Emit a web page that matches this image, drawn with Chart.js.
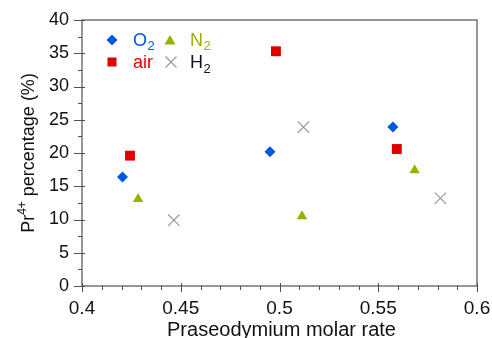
<!DOCTYPE html>
<html>
<head>
<meta charset="utf-8">
<script src="https://cdn.jsdelivr.net/npm/chart.js@4"></script>
<style>
  html, body { margin: 0; padding: 0; background: #fff; }
  #wrap { width: 492px; height: 338px; position: relative; }
</style>
</head>
<body>
<div id="wrap"><canvas id="chart" width="492" height="338"></canvas></div>
<script>
// valores
const o2X = [0.4205, 0.4952, 0.5574]
const o2Y = [16.4, 20.2, 23.9]
const airX = [0.4243, 0.4982, 0.5594]
const airY = [19.6, 35.3, 20.6]
const n2X = [0.4284, 0.5114, 0.5684]
const n2Y = [13.1, 10.5, 17.4]
const h2X = [0.4465, 0.5121, 0.5815]
const h2Y = [9.9, 23.9, 13.2]

const xTickLabels = ['0.4', '0.45', '0.5', '0.55', '0.6']
const yTickLabels = ['0', '5', '10', '15', '20', '25', '30', '35', '40']

const FONT = "'Liberation Sans', Arial, sans-serif"
const AXIS = '#505050'
const BLUE = '#0057e0'
const RED = '#e00000'
const OLIVE = '#9ab000'
const GRAY = '#9a9a9a'

const toPoints = (xs, ys) => xs.map((x, i) => ({ x: x, y: ys[i] }))

// desenha moldura, marcas dos eixos, títulos e legenda
const decorPlugin = {
    id: 'decor',
    afterDraw(chart) {
        const ctx = chart.ctx
        const a = chart.chartArea
        const xs = chart.scales.x
        const ys = chart.scales.y

        ctx.save()
        ctx.strokeStyle = AXIS
        ctx.lineWidth = 1.2
        ctx.strokeRect(a.left, a.top, a.right - a.left, a.bottom - a.top)

        ctx.lineWidth = 1
        ctx.beginPath()
        // eixo x: maiores a cada 0.05, menores a cada 0.01
        for (let i = 0; i <= 20; i++) {
            const px = Math.round(xs.getPixelForValue(0.4 + i * 0.01)) + 0.5
            if (i % 5 === 0) {
                ctx.moveTo(px, a.bottom - 3)
                ctx.lineTo(px, a.bottom + 6)
            } else {
                ctx.moveTo(px, a.bottom)
                ctx.lineTo(px, a.bottom + 4)
            }
        }
        // eixo y: maiores a cada 5, menores a cada 2.5
        for (let i = 0; i <= 16; i++) {
            const py = Math.round(ys.getPixelForValue(i * 2.5)) + 0.5
            if (i % 2 === 0) {
                ctx.moveTo(a.left - 8, py)
                ctx.lineTo(a.left + 3, py)
            } else {
                ctx.moveTo(a.left - 4, py)
                ctx.lineTo(a.left, py)
            }
        }
        ctx.stroke()

        // título do eixo x
        ctx.fillStyle = '#111'
        ctx.font = '20px ' + FONT
        ctx.textAlign = 'center'
        ctx.textBaseline = 'alphabetic'
        ctx.fillText('Praseodymium molar rate', (a.left + a.right) / 2 + 2, 336)

        // título do eixo y com sobrescrito
        ctx.save()
        ctx.translate(34, (a.top + a.bottom) / 2)
        ctx.rotate(-Math.PI / 2)
        ctx.textAlign = 'left'
        const big = '18px ' + FONT
        const small = '12px ' + FONT
        ctx.font = big
        const w1 = ctx.measureText('Pr').width
        const w3 = ctx.measureText(' percentage (%)').width
        ctx.font = small
        const w2 = ctx.measureText('4+').width
        let x0 = -(w1 + w2 + w3) / 2
        ctx.font = big
        ctx.fillText('Pr', x0, 0)
        ctx.font = small
        ctx.fillText('4+', x0 + w1, -8)
        ctx.font = big
        ctx.fillText(' percentage (%)', x0 + w1 + w2, 0)
        ctx.restore()

        // legenda
        const items = [
            { shape: 'diamond', color: BLUE, mx: 112, my: 40, label: 'O', sub: '2', tc: BLUE, tx: 133, ty: 45.5 },
            { shape: 'triangle', color: OLIVE, mx: 170, my: 40, label: 'N', sub: '2', tc: OLIVE, tx: 190, ty: 45.5 },
            { shape: 'square', color: RED, mx: 112, my: 62, label: 'air', sub: '', tc: RED, tx: 133, ty: 68 },
            { shape: 'cross', color: GRAY, mx: 171, my: 62, label: 'H', sub: '2', tc: '#111', tx: 190, ty: 68 }
        ]
        items.forEach(it => {
            ctx.fillStyle = it.color
            ctx.strokeStyle = it.color
            ctx.beginPath()
            if (it.shape === 'diamond') {
                ctx.moveTo(it.mx, it.my - 5.5)
                ctx.lineTo(it.mx + 5.5, it.my)
                ctx.lineTo(it.mx, it.my + 5.5)
                ctx.lineTo(it.mx - 5.5, it.my)
                ctx.closePath()
                ctx.fill()
            } else if (it.shape === 'triangle') {
                ctx.moveTo(it.mx, it.my - 5)
                ctx.lineTo(it.mx + 5.5, it.my + 4.5)
                ctx.lineTo(it.mx - 5.5, it.my + 4.5)
                ctx.closePath()
                ctx.fill()
            } else if (it.shape === 'square') {
                ctx.fillRect(it.mx - 4.5, it.my - 4.5, 9, 9)
            } else {
                ctx.lineWidth = 1.2
                ctx.moveTo(it.mx - 5.5, it.my - 5.5)
                ctx.lineTo(it.mx + 5.5, it.my + 5.5)
                ctx.moveTo(it.mx + 5.5, it.my - 5.5)
                ctx.lineTo(it.mx - 5.5, it.my + 5.5)
                ctx.stroke()
            }
            ctx.fillStyle = it.tc
            ctx.textAlign = 'left'
            ctx.font = '18px ' + FONT
            ctx.fillText(it.label, it.tx, it.ty)
            const lw = ctx.measureText(it.label).width
            if (it.sub) {
                ctx.font = '13px ' + FONT
                ctx.fillText(it.sub, it.tx + lw + 0.5, it.ty + 4.5)
            }
        })
        ctx.restore()
    }
}

new Chart(document.getElementById('chart'), {
    type: 'scatter',
    data: {
        datasets: [
            {
                label: 'O2',
                data: toPoints(o2X, o2Y),
                pointStyle: 'rectRot',
                pointRadius: 5.5,
                backgroundColor: BLUE,
                borderColor: BLUE,
                borderWidth: 0
            },
            {
                label: 'N2',
                data: toPoints(n2X, n2Y),
                pointStyle: 'triangle',
                pointRadius: 6,
                backgroundColor: OLIVE,
                borderColor: OLIVE,
                borderWidth: 0
            },
            {
                label: 'air',
                data: toPoints(airX, airY),
                pointStyle: 'rect',
                pointRadius: 7,
                backgroundColor: RED,
                borderColor: RED,
                borderWidth: 0
            },
            {
                label: 'H2',
                data: toPoints(h2X, h2Y),
                pointStyle: 'crossRot',
                pointRadius: 8,
                backgroundColor: GRAY,
                borderColor: GRAY,
                borderWidth: 1.2
            }
        ]
    },
    options: {
        responsive: false,
        animation: false,
        layout: { padding: { top: 20, right: 15, left: 0, bottom: 0 } },
        plugins: {
            legend: { display: false },
            tooltip: { enabled: false }
        },
        scales: {
            x: {
                type: 'linear',
                min: 0.4,
                max: 0.6,
                afterFit: (scale) => {
                    scale.height = 52
                    scale.paddingLeft = 0
                    scale.paddingRight = 0
                },
                afterBuildTicks: (scale) => {
                    scale.ticks = xTickLabels.map(t => ({ value: Number(t) }))
                },
                grid: { display: false, drawTicks: false },
                border: { display: false },
                ticks: {
                    color: '#111',
                    font: { family: FONT, size: 19 },
                    padding: 11,
                    maxRotation: 0,
                    callback: (v, i) => xTickLabels[i]
                }
            },
            y: {
                type: 'linear',
                min: 0,
                max: 40,
                afterFit: (scale) => {
                    scale.width = 82
                    scale.paddingTop = 0
                    scale.paddingBottom = 0
                },
                afterBuildTicks: (scale) => {
                    scale.ticks = yTickLabels.map(t => ({ value: Number(t) }))
                },
                grid: { display: false, drawTicks: false },
                border: { display: false },
                ticks: {
                    color: '#111',
                    font: { family: FONT, size: 18 },
                    padding: 13,
                    callback: (v, i) => yTickLabels[i]
                }
            }
        }
    },
    plugins: [decorPlugin]
})
</script>
</body>
</html>
